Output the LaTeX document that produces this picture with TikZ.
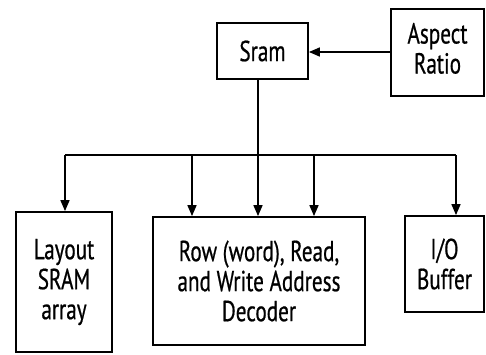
\documentclass[tikz,border=0pt]{standalone}
\usepackage{fontspec}
\setmainfont{PT Sans}[FakeStretch=0.73,FakeBold=0.6]
\usetikzlibrary{arrows.meta}
\tikzset{
  blk/.style={draw, line width=1.8pt, inner sep=0pt, align=center, font=\fontsize{29}{30}\selectfont},
  conn/.style={line width=1.6pt},
  arr/.style={conn, -{Triangle[length=11pt,width=9pt]}}
}
\begin{document}
\begin{tikzpicture}[x=1pt,y=-1pt]
\useasboundingbox (0,0) rectangle (486,354);
\node[blk, minimum width=91pt, minimum height=56pt] (sram) at (262.5,51) {Sram};
\node[blk, minimum width=93pt, minimum height=87pt] (asp) at (437.5,52.5) {\raisebox{-3pt}{\begin{tabular}{@{}c@{}}Aspect\\Ratio\end{tabular}}};
\node[blk, minimum width=96pt, minimum height=140pt] (lay) at (64,282) {Layout\\SRAM\\array};
\node[blk, minimum width=212pt, minimum height=128pt] (row) at (259,281) {Row (word), Read,\\and Write Address\\Decoder};
\node[blk, minimum width=79pt, minimum height=96pt] (io) at (444.5,264) {I/O\\Buffer};
\coordinate (bl) at (65,155);
\coordinate (br) at (456,155);
\coordinate (b2) at (192,155);
\coordinate (b4) at (314,155);
\draw[arr] (asp.west |- 0,52) -- (sram.east |- 0,52);
\draw[conn] (sram.south -| 258,0) -- (258,155);
\draw[conn] (bl) -- (br);
\draw[arr] (bl) -- (bl |- lay.north);
\draw[arr] (b2) -- (b2 |- row.north);
\draw[arr] (258,155) -- (258,0 |- row.north);
\draw[arr] (b4) -- (b4 |- row.north);
\draw[arr] (br) -- (br |- io.north);
\end{tikzpicture}
\end{document}
